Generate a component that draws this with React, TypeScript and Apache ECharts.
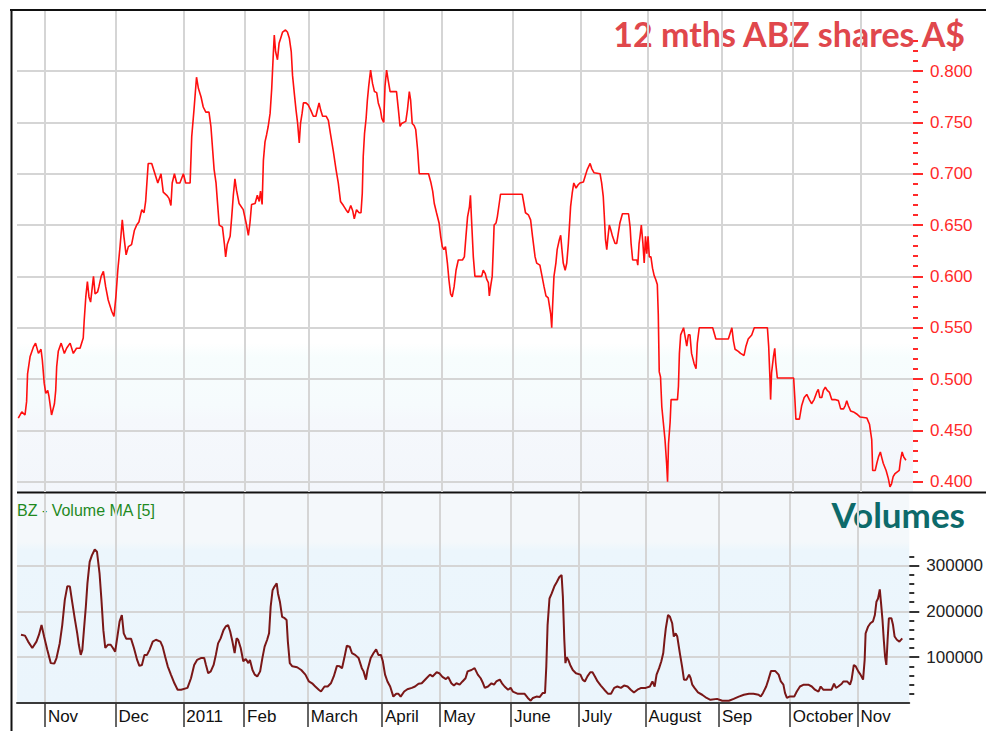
import React, { useEffect, useRef } from "react";
import * as echarts from "echarts";

// ---- Data (x = trading-day position from the start of the chart) ----
const monthStarts = [8.75, 30.9, 52.2, 71.25, 91.25, 114.5, 132.8, 155, 176.25, 197.2, 220.3, 242.5, 263.75];
const monthLabels = ["Nov", "Dec", "2011", "Feb", "March", "April", "May", "June", "July", "August", "Sep", "October", "Nov"];

const priceMajorTicks = [0.4, 0.45, 0.5, 0.55, 0.6, 0.65, 0.7, 0.75, 0.8];
const priceMinorTicks = [0.41, 0.42, 0.43, 0.44, 0.46, 0.47, 0.48, 0.49, 0.51, 0.52, 0.53, 0.54, 0.56, 0.57, 0.58, 0.59, 0.61, 0.62, 0.63, 0.64, 0.66, 0.67, 0.68, 0.69, 0.71, 0.72, 0.73, 0.74, 0.76, 0.77, 0.78, 0.79, 0.81, 0.82, 0.83];
const volumeMajorTicks = [100000, 200000, 300000];
const volumeMinorTicks = [20000, 40000, 60000, 80000, 120000, 140000, 160000, 180000, 220000, 240000, 260000, 280000, 320000];

// ABZ share price, A$
const priceSeries: [number, number][] = [
  [0.4, 0.462], [1.5, 0.468], [2.5, 0.465], [3.0, 0.478], [3.3, 0.505], [4.1, 0.522], [5.1, 0.531], [5.8, 0.535],
  [6.7, 0.525], [7.5, 0.529], [7.9, 0.519], [8.5, 0.496], [9.0, 0.486], [9.6, 0.489], [10.0, 0.483], [10.8, 0.465],
  [11.7, 0.476], [12.1, 0.489], [12.4, 0.512], [12.9, 0.527], [13.8, 0.535], [14.8, 0.525], [15.5, 0.53], [16.6, 0.535],
  [17.6, 0.525], [18.6, 0.53], [19.7, 0.53], [20.7, 0.54], [21.0, 0.557], [21.5, 0.58], [22.0, 0.595], [22.5, 0.58],
  [23.0, 0.575], [23.9, 0.6], [24.4, 0.583], [25.2, 0.585], [25.6, 0.59], [26.3, 0.6], [27.0, 0.605], [27.7, 0.59],
  [28.5, 0.577], [29.6, 0.566], [30.3, 0.561], [30.9, 0.58], [31.5, 0.606], [32.2, 0.629], [32.9, 0.655], [33.4, 0.639],
  [34.1, 0.621], [34.8, 0.629], [35.8, 0.631], [36.7, 0.645], [37.4, 0.65], [38.1, 0.653], [39.0, 0.665], [39.7, 0.662],
  [40.2, 0.673], [41.0, 0.71], [42.1, 0.71], [43.1, 0.7], [44.0, 0.691], [45.0, 0.7], [45.7, 0.682], [46.8, 0.679],
  [47.5, 0.676], [48.1, 0.669], [48.5, 0.691], [49.2, 0.7], [49.9, 0.691], [50.9, 0.691], [52.0, 0.7], [52.7, 0.691],
  [54.1, 0.691], [54.6, 0.736], [55.3, 0.762], [56.1, 0.794], [56.7, 0.783], [57.5, 0.775], [58.2, 0.765], [59.0, 0.76],
  [60.0, 0.76], [60.6, 0.746], [61.6, 0.704], [62.2, 0.691], [62.6, 0.674], [63.2, 0.65], [64.2, 0.648], [64.8, 0.632],
  [65.2, 0.619], [65.7, 0.631], [66.6, 0.639], [67.1, 0.658], [67.6, 0.679], [68.1, 0.695], [68.6, 0.684], [69.4, 0.671],
  [70.7, 0.665], [71.6, 0.652], [72.3, 0.64], [72.8, 0.652], [73.3, 0.67], [74.4, 0.671], [75.1, 0.679], [75.7, 0.673],
  [76.1, 0.683], [76.6, 0.67], [77.0, 0.713], [77.5, 0.731], [78.0, 0.738], [78.5, 0.746], [79.1, 0.759], [79.6, 0.783],
  [80.1, 0.817], [80.4, 0.835], [80.8, 0.819], [81.4, 0.811], [81.9, 0.827], [82.4, 0.832], [83.0, 0.838], [83.9, 0.84],
  [84.5, 0.838], [85.1, 0.832], [85.7, 0.819], [86.1, 0.796], [86.7, 0.777], [87.2, 0.762], [87.7, 0.749], [88.2, 0.73],
  [88.6, 0.749], [89.1, 0.759], [89.5, 0.769], [90.3, 0.769], [91.0, 0.767], [91.8, 0.762], [92.6, 0.756], [93.4, 0.756],
  [94.0, 0.764], [94.4, 0.769], [94.9, 0.762], [95.5, 0.756], [96.6, 0.756], [97.3, 0.752], [98.0, 0.738], [98.8, 0.723],
  [99.7, 0.704], [100.4, 0.691], [101.1, 0.673], [102.0, 0.669], [102.8, 0.665], [103.5, 0.662], [104.3, 0.669], [104.9, 0.664],
  [105.4, 0.656], [106.1, 0.665], [106.9, 0.662], [107.5, 0.662], [107.9, 0.681], [108.2, 0.717], [108.6, 0.739], [109.1, 0.754],
  [109.5, 0.772], [109.9, 0.785], [110.5, 0.801], [111.1, 0.788], [111.7, 0.78], [112.4, 0.779], [112.9, 0.769], [113.6, 0.762],
  [114.0, 0.754], [114.6, 0.75], [115.0, 0.785], [115.5, 0.801], [116.0, 0.791], [116.6, 0.78], [118.6, 0.78], [119.2, 0.762],
  [119.7, 0.746], [120.2, 0.749], [121.5, 0.751], [122.0, 0.762], [122.6, 0.78], [123.0, 0.772], [123.5, 0.749], [124.1, 0.747],
  [124.6, 0.743], [125.2, 0.723], [125.7, 0.7], [128.6, 0.7], [129.3, 0.692], [129.9, 0.683], [130.4, 0.671], [131.1, 0.662],
  [131.9, 0.652], [132.4, 0.639], [132.9, 0.629], [133.4, 0.626], [133.9, 0.629], [134.5, 0.613], [135.0, 0.596], [135.5, 0.583],
  [136.0, 0.58], [136.6, 0.59], [137.2, 0.606], [137.9, 0.616], [139.2, 0.616], [139.8, 0.619], [140.3, 0.639], [140.8, 0.658],
  [141.4, 0.668], [141.7, 0.679], [142.0, 0.658], [142.6, 0.619], [143.1, 0.6], [145.2, 0.6], [145.7, 0.606], [146.3, 0.603],
  [146.8, 0.597], [147.3, 0.594], [147.6, 0.581], [148.0, 0.59], [148.5, 0.6], [148.9, 0.632], [149.1, 0.65], [149.7, 0.652],
  [150.1, 0.658], [150.7, 0.671], [151.1, 0.68], [157.9, 0.68], [158.4, 0.671], [158.9, 0.662], [159.8, 0.66], [160.5, 0.655],
  [161.1, 0.639], [161.9, 0.619], [162.4, 0.613], [163.4, 0.611], [163.9, 0.603], [164.7, 0.59], [165.3, 0.581], [166.0, 0.579],
  [166.4, 0.571], [166.8, 0.563], [167.1, 0.55], [167.4, 0.573], [167.8, 0.6], [168.4, 0.613], [168.8, 0.626], [169.5, 0.636],
  [169.9, 0.64], [170.3, 0.626], [170.7, 0.613], [171.3, 0.606], [171.8, 0.613], [172.3, 0.632], [172.6, 0.647], [173.0, 0.668],
  [173.5, 0.681], [174.0, 0.691], [174.7, 0.686], [175.3, 0.689], [175.9, 0.691], [177.0, 0.692], [177.5, 0.697], [178.2, 0.704],
  [179.1, 0.71], [179.6, 0.705], [180.3, 0.701], [182.2, 0.7], [182.7, 0.691], [183.2, 0.678], [183.5, 0.661], [183.9, 0.636],
  [184.3, 0.626], [184.7, 0.639], [185.1, 0.65], [185.6, 0.645], [186.1, 0.639], [186.9, 0.632], [187.4, 0.632], [187.9, 0.642],
  [188.4, 0.652], [189.2, 0.661], [191.1, 0.661], [191.6, 0.648], [191.9, 0.632], [192.4, 0.616], [193.7, 0.616], [194.0, 0.611],
  [194.4, 0.632], [194.7, 0.639], [195.1, 0.65], [195.6, 0.632], [196.0, 0.613], [196.4, 0.639], [196.8, 0.622], [197.2, 0.639],
  [197.6, 0.619], [198.1, 0.619], [198.6, 0.608], [199.1, 0.601], [199.6, 0.597], [200.1, 0.592], [200.4, 0.563], [200.7, 0.507],
  [201.1, 0.502], [201.5, 0.473], [202.0, 0.457], [202.5, 0.441], [203.0, 0.418], [203.3, 0.4], [203.6, 0.437], [204.1, 0.458],
  [204.4, 0.48], [206.4, 0.48], [206.7, 0.493], [207.0, 0.525], [207.4, 0.543], [208.3, 0.55], [208.8, 0.541], [209.3, 0.532],
  [209.8, 0.543], [210.3, 0.543], [210.8, 0.525], [211.6, 0.515], [212.2, 0.51], [212.6, 0.535], [213.2, 0.55], [217.4, 0.55],
  [218.4, 0.539], [222.3, 0.539], [223.0, 0.546], [223.4, 0.55], [223.9, 0.537], [224.4, 0.529], [225.4, 0.527], [226.1, 0.525],
  [227.2, 0.523], [227.8, 0.532], [228.5, 0.539], [229.6, 0.543], [230.4, 0.55], [234.5, 0.55], [234.9, 0.532], [235.3, 0.5],
  [235.5, 0.48], [235.8, 0.506], [236.4, 0.522], [236.8, 0.53], [237.1, 0.516], [237.6, 0.501], [242.7, 0.501], [243.1, 0.48],
  [243.4, 0.461], [244.5, 0.461], [245.2, 0.474], [246.0, 0.482], [246.8, 0.485], [247.6, 0.48], [248.3, 0.476], [249.1, 0.48],
  [249.9, 0.487], [250.4, 0.49], [250.9, 0.482], [251.5, 0.482], [252.0, 0.489], [252.6, 0.492], [253.2, 0.489], [253.9, 0.487],
  [254.6, 0.48], [255.6, 0.48], [256.7, 0.479], [257.4, 0.471], [258.3, 0.471], [258.8, 0.474], [259.3, 0.479], [259.8, 0.474],
  [260.5, 0.469], [261.4, 0.468], [262.4, 0.466], [263.5, 0.463], [265.6, 0.462], [266.4, 0.456], [267.1, 0.441], [267.4, 0.411],
  [268.2, 0.411], [268.7, 0.418], [269.2, 0.424], [269.8, 0.429], [270.2, 0.424], [270.7, 0.418], [271.6, 0.411], [272.3, 0.403],
  [272.8, 0.395], [273.3, 0.398], [273.8, 0.405], [274.4, 0.408], [275.7, 0.411], [276.1, 0.421], [276.6, 0.429], [277.1, 0.424],
  [277.8, 0.421],
];

// Volume MA [5], thousands of shares
const volumeSeriesK: [number, number][] = [
  [1.25, 149], [2.5, 147], [3.5, 134], [4.8, 120], [6.1, 134], [6.9, 149], [7.7, 170], [8.5, 145], [9.5, 116], [10.6, 87],
  [11.7, 86], [12.4, 98], [13.4, 130], [14.2, 170], [15.0, 225], [15.8, 255], [16.6, 254], [17.3, 221], [18.1, 185], [18.9, 152],
  [19.4, 127], [20.0, 105], [20.5, 116], [21.0, 159], [21.6, 210], [22.1, 261], [22.8, 308], [23.5, 322], [24.4, 335], [25.1, 330],
  [25.9, 283], [26.5, 225], [27.1, 159], [27.7, 120], [28.5, 127], [29.4, 127], [30.1, 120], [30.8, 112], [31.5, 145], [32.2, 178],
  [32.9, 192], [33.5, 152], [34.3, 140], [35.8, 140], [36.7, 120], [37.7, 94], [38.4, 81], [39.2, 83], [40.0, 105], [40.8, 105],
  [41.6, 116], [42.6, 134], [43.6, 138], [45.0, 134], [45.7, 123], [46.5, 101], [47.3, 80], [48.3, 62], [49.4, 43], [50.4, 29],
  [51.5, 29], [53.5, 33], [54.6, 54], [55.6, 83], [56.5, 94], [57.7, 98], [58.75, 98], [59.3, 83], [60.0, 65], [60.8, 69],
  [61.7, 83], [62.4, 105], [63.1, 130], [63.9, 141], [64.8, 159], [65.5, 167], [66.25, 170], [66.9, 156], [67.6, 134], [68.3, 109],
  [68.9, 141], [69.4, 138], [70.2, 120], [71.0, 91], [71.8, 96], [72.6, 87], [73.1, 94], [73.9, 72], [74.6, 62], [75.4, 58],
  [76.3, 69], [77.0, 98], [77.7, 123], [78.5, 138], [79.1, 152], [79.6, 210], [80.2, 246], [80.8, 254], [81.5, 261], [81.9, 239],
  [82.5, 221], [83.2, 188], [84.0, 185], [84.6, 181], [85.0, 134], [85.6, 87], [86.4, 80], [87.9, 78], [89.2, 72], [90.5, 62],
  [91.6, 47], [92.6, 43], [93.6, 36], [94.7, 29], [95.4, 25], [96.5, 36], [97.5, 36], [98.5, 43], [99.4, 58], [100.4, 81],
  [101.25, 80], [102.0, 76], [102.7, 98], [103.5, 125], [104.4, 123], [105.1, 109], [106.1, 105], [107.2, 98], [108.2, 76], [108.75, 69],
  [109.5, 51], [110.0, 72], [111.0, 98], [111.9, 109], [112.7, 117], [113.4, 105], [114.2, 105], [114.8, 91], [115.5, 62], [116.25, 47],
  [117.1, 36], [118.1, 14], [119.0, 20], [119.7, 20], [120.4, 14], [121.5, 25], [122.5, 30], [123.9, 33], [124.9, 36], [126.0, 42],
  [127.0, 43], [128.5, 54], [129.6, 62], [130.4, 58], [131.7, 67], [132.5, 65], [133.5, 57], [134.6, 52], [135.3, 57], [136.3, 43],
  [137.1, 38], [137.9, 43], [138.9, 40], [139.8, 47], [140.75, 54], [141.4, 69], [142.6, 72], [143.6, 76], [144.6, 62], [145.5, 54],
  [146.25, 43], [146.8, 33], [147.8, 36], [148.9, 43], [149.7, 40], [150.4, 47], [151.5, 51], [152.2, 43], [153.0, 36], [154.1, 29],
  [154.9, 33], [155.6, 25], [157.2, 20], [159.3, 20], [160.3, 11], [161.2, 5], [161.9, 11], [163.0, 14], [164.0, 13], [165.0, 22],
  [165.7, 22], [166.1, 80], [166.5, 170], [167.1, 228], [167.8, 239], [168.6, 254], [169.4, 264], [170.2, 275], [170.9, 279], [171.3, 232],
  [171.75, 138], [172.1, 87], [172.5, 100], [173.0, 94], [173.6, 83], [174.4, 72], [175.4, 65], [176.8, 62], [177.5, 51], [178.2, 47],
  [179.0, 58], [179.9, 67], [180.6, 67], [181.35, 58], [182.2, 47], [183.2, 38], [184.3, 29], [185.5, 20], [186.4, 20], [187.4, 33],
  [188.4, 36], [189.5, 33], [190.5, 38], [191.6, 36], [192.6, 29], [193.6, 23], [194.7, 29], [195.9, 33], [197.3, 33], [198.6, 36],
  [199.4, 47], [200.1, 36], [200.7, 62], [201.5, 76], [202.2, 91], [202.8, 109], [203.2, 138], [203.6, 163], [204.3, 192], [204.9, 188],
  [205.6, 174], [206.1, 145], [206.7, 152], [207.2, 145], [208.0, 109], [208.7, 80], [209.3, 51], [210.1, 51], [210.9, 62], [211.4, 54],
  [211.9, 40], [212.6, 33], [213.7, 23], [215.0, 18], [216.4, 11], [217.6, 7], [219.7, 9], [221.3, 5], [223.4, 5], [224.9, 9],
  [226.5, 14], [228.1, 18], [229.7, 20], [231.1, 20], [232.7, 18], [233.4, 14], [234.1, 22], [235.1, 36], [235.8, 51], [236.6, 70],
  [237.9, 70], [239.0, 62], [239.7, 47], [240.5, 40], [241.0, 22], [241.6, 11], [242.4, 14], [243.9, 14], [244.7, 25], [245.7, 36],
  [246.9, 40], [248.3, 40], [249.4, 36], [250.4, 29], [251.5, 25], [252.2, 36], [253.0, 29], [254.3, 29], [255.6, 29], [256.4, 42],
  [257.0, 33], [257.7, 36], [258.8, 42], [259.3, 47], [260.5, 47], [261.4, 40], [261.9, 51], [262.6, 83], [263.2, 80], [264.0, 69],
  [264.7, 62], [265.5, 51], [266.0, 94], [266.3, 152], [267.1, 167], [267.8, 174], [268.6, 178], [269.2, 192], [269.7, 221], [270.2, 228],
  [270.75, 248], [271.1, 221], [271.6, 181], [272.0, 138], [272.4, 101], [272.8, 83], [273.2, 138], [273.6, 185], [274.4, 185], [274.9, 170],
  [275.4, 145], [276.1, 138], [276.9, 134], [277.8, 141],
];

const titleText = "12 mths ABZ shares A$";
const volumeTitle = "Volumes";
const indicatorText = "BZ - Volume MA [5]";

export default function App() {
  const ref = useRef<HTMLDivElement>(null);

  useEffect(() => {
    if (!ref.current) return;
    const chart = echarts.init(ref.current, null, { renderer: "svg" });
    const gridLine = { show: true, lineStyle: { color: "#d5d5d5", width: 2 } };
    const labelFont = { fontFamily: "Liberation Sans", fontSize: 17 };
    const noLine = { show: false, onZero: false };

    const option: any = {
      animation: false,
      backgroundColor: "#ffffff",
      grid: [
        {
          left: 17, top: 11, width: 896, height: 481, show: true, borderWidth: 0,
          backgroundColor: new echarts.graphic.LinearGradient(0, 0, 0, 1, [
            { offset: 0, color: "#ffffff" },
            { offset: 0.69, color: "#ffffff" },
            { offset: 0.72, color: "#f7fdfd" },
            { offset: 0.82, color: "#f6fbfd" },
            { offset: 0.85, color: "#f5f8fc" },
            { offset: 1, color: "#f3f6fb" },
          ]),
        },
        {
          left: 17, top: 494, width: 896, height: 209, show: true, borderWidth: 0,
          backgroundColor: new echarts.graphic.LinearGradient(0, 0, 0, 1, [
            { offset: 0, color: "#f4f8fb" },
            { offset: 0.23, color: "#f4f8fb" },
            { offset: 0.27, color: "#ecf6fc" },
            { offset: 1, color: "#ebf5fc" },
          ]),
        },
      ],
      xAxis: [
        {
          gridIndex: 0, type: "value", min: 0, max: 280,
          axisLine: noLine,
          axisTick: { show: false, customValues: monthStarts },
          axisLabel: { show: false },
          splitLine: gridLine,
        },
        {
          gridIndex: 1, type: "value", min: 0, max: 280,
          axisLine: { show: true, onZero: false, lineStyle: { color: "#3a3a3a", width: 2 } },
          axisTick: { show: true, customValues: monthStarts, length: 24, lineStyle: { color: "#333333", width: 1.5 } },
          axisLabel: {
            show: true, customValues: monthStarts, align: "left", margin: 5, padding: [0, 0, 0, 3],
            color: "#111111", ...labelFont,
            formatter: (v: number) => {
              const i = monthStarts.indexOf(v);
              return i >= 0 ? monthLabels[i] : "";
            },
          },
          splitLine: gridLine,
        },
      ],
      yAxis: [
        {
          gridIndex: 0, type: "value", position: "right", min: 0.39, max: 0.8585,
          axisLine: noLine,
          axisTick: { show: true, customValues: priceMajorTicks, length: 10, lineStyle: { color: "#ff2a2a", width: 2 } },
          axisLabel: {
            show: true, customValues: priceMajorTicks, margin: 17, color: "#ff2a2a", ...labelFont,
            formatter: (v: number) => v.toFixed(3),
          },
          splitLine: gridLine,
        },
        {
          gridIndex: 0, type: "value", position: "right", min: 0.39, max: 0.8585,
          axisLine: noLine,
          axisTick: { show: true, customValues: priceMinorTicks, length: 5, lineStyle: { color: "#ff2a2a", width: 2 } },
          axisLabel: { show: false },
          splitLine: { show: false },
        },
        {
          gridIndex: 1, type: "value", position: "right", min: 0, max: 456000,
          axisLine: noLine,
          axisTick: { show: true, customValues: volumeMajorTicks, length: 10, lineStyle: { color: "#333333", width: 2 } },
          axisLabel: {
            show: true, customValues: volumeMajorTicks, margin: 17, color: "#222222", ...labelFont,
            formatter: (v: number) => String(v),
          },
          splitLine: gridLine,
        },
        {
          gridIndex: 1, type: "value", position: "right", min: 0, max: 456000,
          axisLine: noLine,
          axisTick: { show: true, customValues: volumeMinorTicks, length: 5, lineStyle: { color: "#333333", width: 2 } },
          axisLabel: { show: false },
          splitLine: { show: false },
        },
      ],
      series: [
        {
          type: "line", xAxisIndex: 0, yAxisIndex: 0, data: priceSeries,
          showSymbol: false, symbol: "none", lineStyle: { color: "#ff0f0f", width: 1.6 },
        },
        {
          type: "line", xAxisIndex: 1, yAxisIndex: 2,
          data: volumeSeriesK.map(([d, v]) => [d, v * 1000]),
          showSymbol: false, symbol: "none", lineStyle: { color: "#7a1717", width: 2 },
        },
      ],
      graphic: [
        { type: "line", shape: { x1: 10, y1: 10, x2: 986, y2: 10 }, style: { stroke: "#111111", lineWidth: 2 } },
        { type: "line", shape: { x1: 11.5, y1: 10, x2: 11.5, y2: 731 }, style: { stroke: "#111111", lineWidth: 2 } },
        { type: "line", shape: { x1: 17, y1: 492.5, x2: 986, y2: 492.5 }, style: { stroke: "#111111", lineWidth: 2 } },
        {
          type: "text", x: 965, y: 33,
          style: {
            text: titleText, align: "right", verticalAlign: "middle", fill: "#e0474c",
            fontFamily: "Lato", fontWeight: "bold", fontSize: 34,
          },
        },
        {
          type: "text", x: 965, y: 514,
          style: {
            text: volumeTitle, align: "right", verticalAlign: "middle", fill: "#0d6a6a",
            fontFamily: "Lato", fontWeight: "bold", fontSize: 35,
          },
        },
        {
          type: "text", x: 17, y: 510,
          style: {
            text: indicatorText, align: "left", verticalAlign: "middle", fill: "#1f8a1f",
            fontFamily: "Liberation Sans", fontSize: 16,
          },
        },
      ],
    };

    chart.setOption(option);
    return () => chart.dispose();
  }, []);

  return (
    <div style={{ position: "fixed", left: 0, top: 0, width: 986, height: 731, background: "#ffffff" }}>
      <div ref={ref} style={{ width: 986, height: 731 }} />
    </div>
  );
}
